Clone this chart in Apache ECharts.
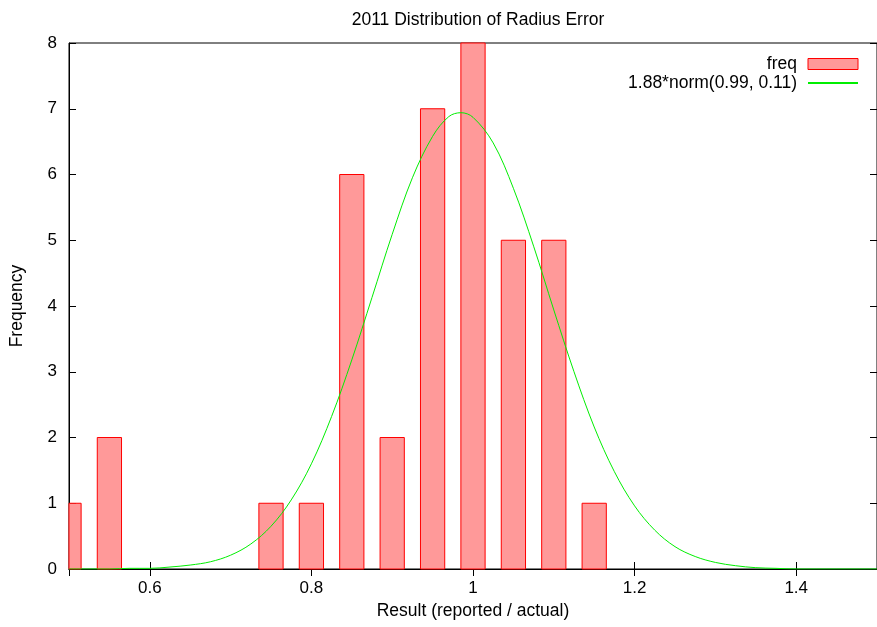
<!DOCTYPE html>
<html>
<head>
<meta charset="utf-8">
<script src="https://cdn.jsdelivr.net/npm/echarts@6/dist/echarts.min.js"></script>
<style>
  html, body { margin: 0; padding: 0; background: #fff; }
  #main { width: 877px; height: 627px; }
</style>
</head>
<body>
<div id="main"></div>
<script>
// histogram bins (bin centre) and counts
var binCentres = [0.5, 0.55, 0.75, 0.8, 0.85, 0.9, 0.95, 1.0, 1.05, 1.1, 1.15];
var binCounts = [1, 2, 1, 1, 6, 2, 7, 8, 5, 5, 1];

// fitted curve
var curveX = [0.5, 0.525, 0.55, 0.575, 0.6, 0.625, 0.65, 0.675, 0.7, 0.725,
  0.75, 0.775, 0.8, 0.825, 0.85, 0.875, 0.9, 0.925, 0.95, 0.97, 0.985,
  1.0, 1.025, 1.05, 1.075, 1.1, 1.125, 1.15, 1.175, 1.2, 1.225,
  1.25, 1.275, 1.3, 1.325, 1.35, 1.375, 1.4, 1.425, 1.45, 1.475, 1.5];
var curveY = [0, 0, 0, 0.01, 0.01, 0.03, 0.06, 0.11, 0.21, 0.38,
  0.65, 1.05, 1.6, 2.32, 3.18, 4.13, 5.09, 5.95, 6.58, 6.88, 6.94,
  6.87, 6.48, 5.79, 4.91, 3.94, 3.0, 2.16, 1.48, 0.96, 0.59,
  0.34, 0.19, 0.1, 0.05, 0.02, 0.01, 0, 0, 0, 0, 0];

var yTicks = [0, 1, 2, 3, 4, 5, 6, 7, 8];

var font = "'Liberation Sans', Arial, sans-serif";
var binWidth = 0.03;

var myChart = echarts.init(document.getElementById("main"));

var barData = binCentres.map(function (x, i) {
  return [x, binCounts[i]];
});
var lineData = curveX.map(function (x, i) {
  return [x, curveY[i]];
});

function renderBar(params, api) {
  var x = api.value(0);
  var y = api.value(1);
  var p1 = api.coord([x - binWidth / 2, y]);
  var p2 = api.coord([x + binWidth / 2, 0]);
  var rect = echarts.graphic.clipRectByRect(
    { x: p1[0], y: p1[1], width: p2[0] - p1[0], height: p2[1] - p1[1] },
    {
      x: params.coordSys.x,
      y: params.coordSys.y,
      width: params.coordSys.width,
      height: params.coordSys.height,
    }
  );
  if (!rect) return;
  return {
    type: "rect",
    shape: rect,
    style: { fill: "#ff9999", stroke: "#ff0000", lineWidth: 1 },
  };
}

var tickStyle = { color: "#000", width: 1 };

myChart.setOption({
  animation: false,
  backgroundColor: "#fff",
  textStyle: { fontFamily: font },
  title: {
    text: "2011 Distribution of Radius Error",
    left: 473,
    textAlign: "center",
    top: 6,
    textStyle: { fontSize: 17.5, fontWeight: "normal", color: "#000", fontFamily: font },
  },
  legend: {
    orient: "vertical",
    right: 13,
    top: 50,
    align: "right",
    itemWidth: 50,
    itemHeight: 11,
    itemGap: 1,
    textStyle: { fontSize: 17.5, color: "#000", fontFamily: font, padding: [0, 6, 0, 0] },
    data: [
      { name: "freq", icon: "rect", itemStyle: { color: "#ff9999", borderColor: "#ff0000", borderWidth: 1 } },
      { name: "1.88*norm(0.99, 0.11)", itemStyle: { opacity: 0 } },
    ],
  },
  grid: {
    left: 69,
    right: -3,
    top: 43,
    bottom: 58,
    show: true,
    borderColor: "#000",
    borderWidth: 1,
  },
  xAxis: [
    {
      type: "value",
      min: 0.5,
      max: 1.5,
      splitNumber: 5,
      name: "Result (reported / actual)",
      nameLocation: "middle",
      nameGap: 29,
      nameTextStyle: { fontSize: 17.5, color: "#000", fontFamily: font },
      axisLine: { show: true, lineStyle: { color: "#000" } },
      axisTick: { show: true, inside: true, length: 7, lineStyle: tickStyle },
      axisLabel: { fontSize: 17, color: "#000", margin: 11, showMinLabel: false, showMaxLabel: false },
      splitLine: { show: false },
    },
    {
      type: "value",
      position: "top",
      min: 0.5,
      max: 1.5,
      splitNumber: 5,
      axisLine: { show: true, lineStyle: { color: "#000" } },
      axisTick: { show: true, inside: true, length: 7, lineStyle: tickStyle },
      axisLabel: { show: false },
      splitLine: { show: false },
    },
  ],
  yAxis: [
    {
      type: "value",
      min: yTicks[0],
      max: yTicks[yTicks.length - 1],
      interval: 1,
      name: "Frequency",
      nameLocation: "middle",
      nameGap: 43,
      nameTextStyle: { fontSize: 17.5, color: "#000", fontFamily: font },
      axisLine: { show: true, lineStyle: { color: "#000" } },
      axisTick: { show: true, inside: true, length: 7, lineStyle: tickStyle },
      axisLabel: { fontSize: 17, color: "#000", margin: 12 },
      splitLine: { show: false },
    },
    {
      type: "value",
      position: "right",
      min: yTicks[0],
      max: yTicks[yTicks.length - 1],
      interval: 1,
      axisLine: { show: true, lineStyle: { color: "#000" } },
      axisTick: { show: true, inside: true, length: 7, lineStyle: tickStyle },
      axisLabel: { show: false },
      splitLine: { show: false },
    },
  ],
  series: [
    {
      name: "freq",
      type: "custom",
      renderItem: renderBar,
      itemStyle: { color: "#ff9999", borderColor: "#ff0000" },
      encode: { x: 0, y: 1 },
      data: barData,
      z: 2,
    },
    {
      name: "1.88*norm(0.99, 0.11)",
      type: "line",
      data: lineData,
      smooth: 0.35,
      symbol: "none",
      lineStyle: { color: "#00ee00", width: 1 },
      itemStyle: { color: "#00ee00" },
      z: 3,
    },
  ],
});
</script>
</body>
</html>
